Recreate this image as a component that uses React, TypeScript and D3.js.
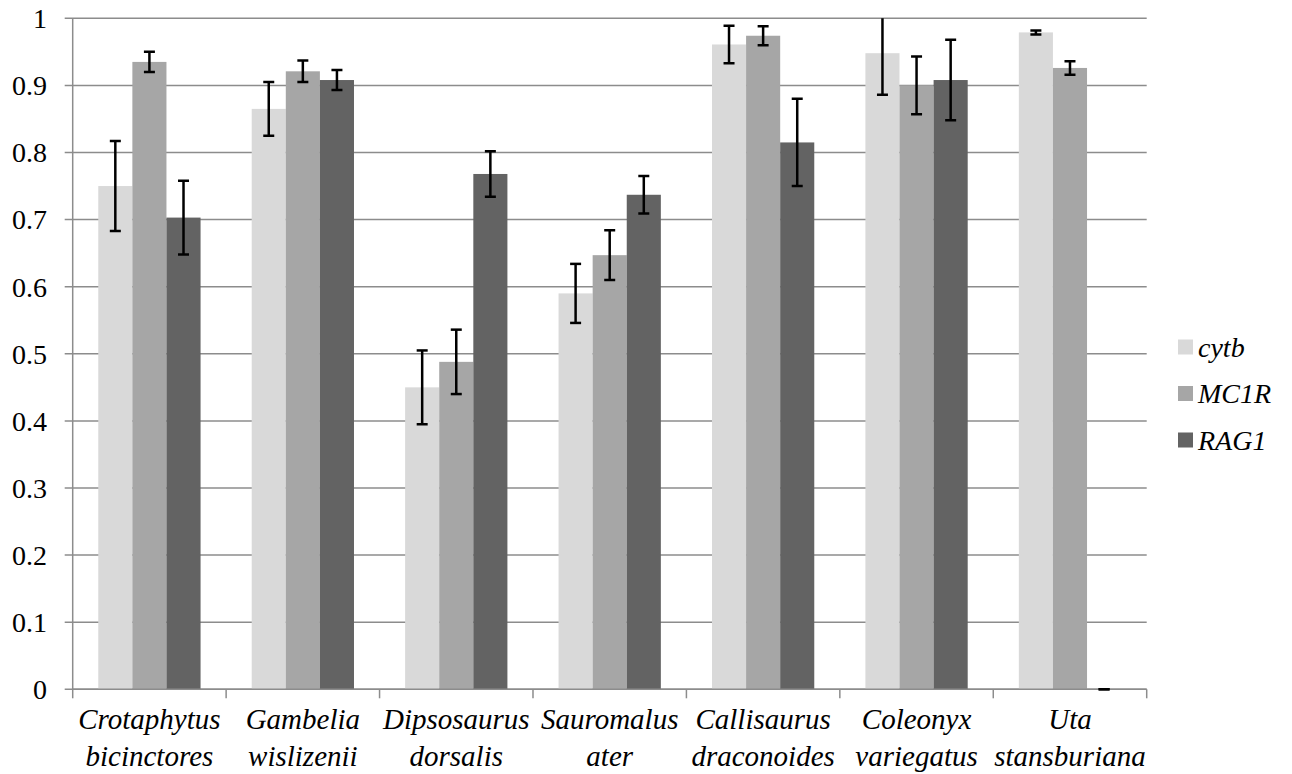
import React from "react";
import * as d3 from "d3";

const categories = [
  ["Crotaphytus", "bicinctores"],
  ["Gambelia", "wislizenii"],
  ["Dipsosaurus", "dorsalis"],
  ["Sauromalus", "ater"],
  ["Callisaurus", "draconoides"],
  ["Coleonyx", "variegatus"],
  ["Uta", "stansburiana"],
];
const seriesNames = ["cytb", "MC1R", "RAG1"];
const seriesColors = ["#d9d9d9", "#a6a6a6", "#636363"];
const cytb = [0.75, 0.865, 0.45, 0.59, 0.961, 0.948, 0.979];
const cytbErr = [0.067, 0.04, 0.055, 0.044, 0.028, 0.062, 0.003];
const mc1r = [0.935, 0.921, 0.488, 0.647, 0.974, 0.9, 0.926];
const mc1rErr = [0.015, 0.016, 0.048, 0.037, 0.014, 0.043, 0.01];
const rag1 = [0.703, 0.908, 0.768, 0.737, 0.815, 0.908, 0];
const rag1Err = [0.055, 0.015, 0.034, 0.028, 0.065, 0.06, 0];
const yTicks = [0, 0.1, 0.2, 0.3, 0.4, 0.5, 0.6, 0.7, 0.8, 0.9, 1];

const values = [cytb, mc1r, rag1];
const errors = [cytbErr, mc1rErr, rag1Err];

const FONT = '"Liberation Serif", "Times New Roman", Times, "DejaVu Serif", serif';

export default function App() {
  const W = 1292, H = 774;
  const left = 72.7, right = 1146.7, top = 18.3, bottom = 689.3;
  const y = d3.scaleLinear().domain([0, 1]).range([bottom, top]);
  const keys = categories.map((c) => c.join(" "));
  const x = d3.scaleBand<string>().domain(keys).range([left, right]).padding(0);
  const bw = x.bandwidth() / 4.5;
  const grid = "#8c8c8c";

  return (
    <svg width={W} height={H} style={{ position: "absolute", left: 0, top: 0, background: "#fff", fontFamily: FONT }}>
      <defs>
        <clipPath id="plot">
          <rect x={left} y={top} width={right - left} height={bottom - top + 5} />
        </clipPath>
      </defs>
      {yTicks.map((t) => (
        <g key={t}>
          <line x1={left - 8} x2={right} y1={y(t)} y2={y(t)} stroke={grid} strokeWidth={1.5} />
          <text x={47} y={y(t)} dy="0.35em" textAnchor="end" style={{ fontFamily: FONT, fontSize: 28 }} fill="#000">
            {t}
          </text>
        </g>
      ))}
      <line x1={left} x2={left} y1={top} y2={bottom} stroke={grid} strokeWidth={1.5} />
      {keys.map((k) => (
        <line key={k} x1={x(k)!} x2={x(k)!} y1={bottom} y2={bottom + 9} stroke={grid} strokeWidth={1.5} />
      ))}
      <line x1={right} x2={right} y1={bottom} y2={bottom + 9} stroke={grid} strokeWidth={1.5} />
      {keys.map((k, i) =>
        values.map((vals, s) => {
          const bx = x(k)! + bw * 0.75 + s * bw;
          const v = vals[i];
          return (
            <rect key={k + s} x={bx} y={y(v)} width={bw} height={y(0) - y(v)} fill={seriesColors[s]} />
          );
        })
      )}
      <line x1={left} x2={right} y1={bottom} y2={bottom} stroke={grid} strokeWidth={1.5} />
      <g clipPath="url(#plot)">
        {keys.map((k, i) =>
          values.map((vals, s) => {
            const cx = x(k)! + bw * 0.75 + s * bw + bw / 2;
            const v = vals[i];
            const e = errors[s][i];
            const y1 = y(v + e), y2 = y(v - e);
            return (
              <g key={k + "e" + s} stroke="#000" strokeWidth={2.5}>
                <line x1={cx} x2={cx} y1={y1} y2={y2} />
                <line x1={cx - 5.5} x2={cx + 5.5} y1={y1} y2={y1} />
                <line x1={cx - 5.5} x2={cx + 5.5} y1={y2} y2={y2} />
              </g>
            );
          })
        )}
      </g>
      {categories.map((c, i) => {
        const cx = x(keys[i])! + x.bandwidth() / 2;
        return (
          <text key={keys[i]} x={cx} textAnchor="middle" style={{ fontFamily: FONT, fontSize: 29, fontStyle: "italic" }} fill="#000">
            <tspan x={cx} y={729}>{c[0]}</tspan>
            <tspan x={cx} y={766}>{c[1]}</tspan>
          </text>
        );
      })}
      {seriesNames.map((n, s) => {
        const cy = 347 + s * 46.5;
        return (
          <g key={n}>
            <rect x={1178} y={cy - 7.5} width={15} height={15} fill={seriesColors[s]} />
            <text x={1198} y={cy} dy="0.35em" style={{ fontFamily: FONT, fontSize: 28, fontStyle: "italic" }} fill="#000">
              {n}
            </text>
          </g>
        );
      })}
    </svg>
  );
}
